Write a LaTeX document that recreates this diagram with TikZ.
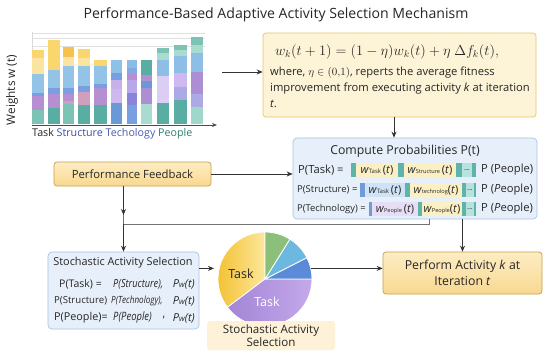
\documentclass[tikz,border=0pt]{standalone}
\usepackage{fontspec}
\setmainfont{Open Sans}
\usetikzlibrary{arrows.meta,calc}
\definecolor{cTeal}{HTML}{7CC3B6}
\definecolor{cTealD}{HTML}{5AADA3}
\definecolor{cPurp}{HTML}{B68FD3}
\definecolor{cBlue}{HTML}{7A9FE0}
\definecolor{cLBlue}{HTML}{93C4E8}
\definecolor{cYel}{HTML}{FAD66E}
\definecolor{cYelL}{HTML}{FBE3A0}
\definecolor{cOrg}{HTML}{F6C24E}
\definecolor{cLav}{HTML}{CDB8F0}
\definecolor{cLTeal}{HTML}{A9DCCF}
\definecolor{cBlueD}{HTML}{6A9AD6}
\definecolor{cIndigo}{HTML}{8A84D8}
\definecolor{cPink}{HTML}{CFA0BD}
\definecolor{txtS}{HTML}{3D4FA8}
\definecolor{txtT}{HTML}{4A5CB0}
\definecolor{txtP}{HTML}{2E8070}
\definecolor{ybord}{HTML}{C99E4C}
\definecolor{yfillT}{HTML}{FDEDC4}
\definecolor{yfillB}{HTML}{F8D890}
\definecolor{bbord}{HTML}{A7C3E3}
\definecolor{bfill}{HTML}{E7F0FA}
\definecolor{fbfill}{HTML}{FDF3D6}
\definecolor{fbbord}{HTML}{EBC46C}
\definecolor{cellY}{HTML}{FBEFC4}
\definecolor{cellB}{HTML}{CFE3F5}
\definecolor{cellL}{HTML}{E6DEF5}
\definecolor{cellT}{HTML}{B8E3DC}
\definecolor{strT}{HTML}{5FB3AD}
\definecolor{strB}{HTML}{6F9BD8}
\definecolor{pieY1}{HTML}{F3C236}
\definecolor{pieY2}{HTML}{FDE79A}
\definecolor{pieP1}{HTML}{A385D6}
\definecolor{pieP2}{HTML}{C4A9EA}
\definecolor{pieB}{HTML}{5B8AD8}
\definecolor{pieLB}{HTML}{6CB8E0}
\definecolor{pieG}{HTML}{8CC07A}
\definecolor{lblfill}{HTML}{FDF1D8}
\newfontfamily\narrowit[FakeStretch=0.82]{Open Sans Italic}
\begin{document}
\begin{tikzpicture}[x=1pt,y=-1pt,
  every node/.style={inner sep=0pt, text=black!85},
  arr/.style={-{Stealth[length=6pt,width=5pt]}, draw=black!80, line width=0.8pt},
  conn/.style={draw=black!55, line width=0.9pt},
  ybox/.style={draw=ybord, rounded corners=3pt, top color=yfillT, bottom color=yfillB, line width=0.7pt},
  bbox/.style={draw=bbord, fill=bfill, rounded corners=4pt, line width=0.7pt},
  fs/.style={font=\fontsize{#1}{#1}\selectfont},
  nit/.style={font=\fontsize{#1}{#1}\selectfont\narrowit}
]
\useasboundingbox (0,0) rectangle (550,360);
\fill[white] (0,0) rectangle (550,360);

% title
\node[fs=14.1] (title) at (276,15) {Performance-Based Adaptive Activity Selection Mechanism};

% chart grid
\draw[black!12, line width=0.6pt] (32,33) -- (205,33) (32,38) -- (205,38) (32,46) -- (205,46);
\draw[black!15, line width=0.6pt] (32,32) -- (32,125);
% bars
\fill[cTeal] (32,124) rectangle (44,110); \fill[cPurp] (32,110) rectangle (44,96); \fill[cBlue] (32,96) rectangle (44,93); \fill[cLBlue] (32,93) rectangle (44,74); \fill[cYelL] (32,74) rectangle (44,58); \fill[cYel] (32,58) rectangle (44,50);
\fill[cTealD] (48,124) rectangle (60,108); \fill[cPurp] (48,108) rectangle (60,94); \fill[cBlue] (48,94) rectangle (60,88); \fill[cLBlue] (48,88) rectangle (60,70); \fill[cYel] (48,70) rectangle (60,40);
\fill[cTeal] (63,124) rectangle (74,104); \fill[cPink] (63,104) rectangle (74,101); \fill[cPurp] (63,101) rectangle (74,94); \fill[cBlue] (63,94) rectangle (74,88); \fill[cLBlue] (63,88) rectangle (74,66); \fill[cYelL] (63,66) rectangle (74,57); \fill[cOrg] (63,57) rectangle (74,47);
\fill[cTealD] (78,124) rectangle (90,105); \fill[cPink] (78,105) rectangle (90,92); \fill[cBlue] (78,92) rectangle (90,86); \fill[cLBlue] (78,86) rectangle (90,66); \fill[cYelL] (78,66) rectangle (90,58); \fill[cYel] (78,58) rectangle (90,49);
\fill[cTealD] (94,124) rectangle (107,105); \fill[cPurp] (94,105) rectangle (107,88); \fill[cBlue] (94,88) rectangle (107,84); \fill[cLBlue] (94,84) rectangle (107,66); \fill[cYel] (94,66) rectangle (107,60);
\fill[cBlueD] (111,124) rectangle (122,103); \fill[cLav] (111,103) rectangle (122,89); \fill[cLav!80!cPurp] (111,89) rectangle (122,80); \fill[cBlue] (111,80) rectangle (122,73); \fill[cLBlue!90!cBlueD] (111,73) rectangle (122,60);
\fill[cBlue] (127,124) rectangle (137,105); \fill[cIndigo] (127,105) rectangle (137,93); \fill[cLav!70!cIndigo] (127,93) rectangle (137,80); \fill[cPurp] (127,80) rectangle (137,74); \fill[cBlue!70!cLBlue] (127,74) rectangle (137,68); \fill[cLBlue!80!cBlueD] (127,68) rectangle (137,60);
\fill[cLTeal] (141,124) rectangle (152,104); \fill[cPurp!80!cIndigo] (141,104) rectangle (152,88); \fill[cBlueD] (141,88) rectangle (152,81); \fill[cPurp] (141,81) rectangle (152,75); \fill[cTealD] (141,75) rectangle (152,60);
\fill[cTealD] (157,124) rectangle (169,103); \fill[cLav!70] (157,103) rectangle (169,76); \fill[cLBlue!85!cBlueD] (157,76) rectangle (169,60); \fill[cLTeal] (157,60) rectangle (169,53); \fill[cTeal] (157,53) rectangle (169,48);
\fill[cTealD] (174,124) rectangle (187,100); \fill[cIndigo!70] (174,100) rectangle (187,87); \fill[cLav] (174,87) rectangle (187,73); \fill[cLBlue!85!cBlueD] (174,73) rectangle (187,56); \fill[cLTeal] (174,56) rectangle (187,50); \fill[cTeal] (174,50) rectangle (187,45);
\fill[cLTeal!80!cTeal] (191,124) rectangle (203,107); \fill[cIndigo!70] (191,107) rectangle (203,94); \fill[cPurp!80!cIndigo] (191,94) rectangle (203,72); \fill[cLBlue!85!cBlueD] (191,72) rectangle (203,53); \fill[cLTeal] (191,53) rectangle (203,45); \fill[cTeal] (191,45) rectangle (203,37);
% axis
\coordinate (ax0) at (32,125);
\coordinate (ax1) at (217,125);
\draw[-{Stealth[length=5pt,width=4pt]}, draw=black!70, line width=0.7pt] (ax0) -- (ax1);
\node[fs=10.7, anchor=west] (xlab) at (32,134) {Task {\color{txtS}Structure} {\color{txtT}Techology} {\color{txtP}People}};
\node[fs=11.8, rotate=90] (ylab) at (12,90) {Weights w (t)};

% formula box
\node[draw=fbbord, fill=fbfill, rounded corners=3pt, line width=0.7pt, minimum width=273pt, minimum height=84pt] (fb) at (399.5,75) {};
\node[fs=13.8] (form) at (387,52) {$w_k(t+1)=(1-\eta)w_k(t)+\eta\ \Delta f_k(t),$};
\node[fs=11.2, anchor=west] (fl1) at (270,73) {where, $\eta\in(0{,}1)$, reperts the average fitness};
\node[fs=11.2, anchor=west] (fl2) at (270,89) {improvement from executing activity \textit{k} at iteration};
\node[fs=11.2, anchor=west] (fl3) at (270,104) {\textit{t}.};

% compute box
\node[bbox, minimum width=244pt, minimum height=81pt] (cp) at (415,178.5) {};
\node[fs=12.3] (cpt) at (405,151) {Compute Probabilities P(t)};
\node[fs=11.2, anchor=west] (r1) at (298,170) {P(Task) =};
\node[fs=9.5, anchor=west] (r2) at (297,190) {P(Structure) =};
\node[fs=9.4, anchor=west] (r3) at (297,209) {P(Technology) =};
% row 1 cells
\fill[strT] (351,163) rectangle (476,177);
\fill[cellY] (356,163) rectangle (398,177);
\fill[cellY] (404,163) rectangle (456,177);
\fill[cellT] (462,163) rectangle (472,177);
\node[fs=11] (c11) at (377,170) {\textit{w}{\fontsize{6}{6}\selectfont Task}\,(\textit{t})};
\node[fs=11] (c12) at (430,170) {\textit{w}{\fontsize{5.6}{6}\selectfont Structure}\,(\textit{t})};
\node[fs=7.5] (c13) at (467,170) {...};
% row 2 cells
\fill[strT] (360,183) rectangle (476,197);
\fill[strB] (360,183) rectangle (365,197);
\fill[cellB] (365,183) rectangle (405,197);
\fill[cellY] (410,183) rectangle (462,197);
\fill[cellT] (466,183) rectangle (474,197);
\node[fs=11] (c21) at (385,190) {\textit{w}{\fontsize{6}{6}\selectfont Task}\,(\textit{t})};
\node[fs=11] (c22) at (436,190) {\textit{w}{\fontsize{5.6}{6}\selectfont technolog}(\textit{t})};
\node[fs=7.5] (c23) at (470,190) {...};
% row 3 cells
\fill[strT] (369,202) rectangle (476,216);
\fill[strB] (369,202) rectangle (372,216);
\fill[cellL] (372,202) rectangle (418,216);
\fill[cellY] (422,202) rectangle (462,216);
\fill[cellT] (466,202) rectangle (474,216);
\node[fs=11] (c31) at (395,209) {\textit{w}{\fontsize{5.6}{6}\selectfont People}\,(\textit{t})};
\node[fs=11] (c32) at (442,209) {\textit{w}{\fontsize{5.6}{6}\selectfont People}(\textit{t})};
\node[fs=7.5] (c33) at (470,209) {...};
\node[fs=11.2, anchor=west] (p1) at (481,170) {P (People)};
\node[fs=11.2, anchor=west] (p2) at (481,190) {P (\textit{P}eople)};
\node[fs=11.2, anchor=west] (p3) at (481,209) {P (\textit{P}eople)};

% performance feedback
\node[ybox, minimum width=157pt, minimum height=24pt, fs=11.3] (pf) at (132.5,174) {Performance Feedback};

% stochastic activity selection box
\node[bbox, minimum width=151pt, minimum height=77pt] (sas) at (123.5,290.5) {};
\node[fs=10.9] (sast) at (123,263) {Stochastic Activity Selection};
\node[fs=10.5, anchor=west] (s1a) at (59,284) {P(Task) =};
\node[nit=11.2, anchor=west] (s1b) at (113,284) {P(Structure),};
\node[fs=9.6, anchor=west] (s2a) at (54,301) {P(Structure)};
\node[nit=9.9, anchor=west] (s2b) at (111,301) {P(Technology),};
\node[fs=10.8, anchor=west] (s3a) at (54,318) {P(People)=};
\node[nit=11.5, anchor=west] (s3b) at (113,318) {P(People)};
\node[fs=11] (s3c) at (164,318) {,};
\node[fs=11, anchor=east] (s1c) at (195,284) {\textit{P{\fontsize{8}{8}\selectfont w}(t)}};
\node[fs=11, anchor=east] (s2c) at (195,301) {\textit{P{\fontsize{8}{8}\selectfont w}(t)}};
\node[fs=11, anchor=east] (s3d) at (195,318) {\textit{P{\fontsize{8}{8}\selectfont w}(t)}};

% pie
\node[circle, minimum size=94pt] (pie) at (265,279) {};
\shade[left color=pieY1, right color=pieY2, draw=white, line width=0.8pt] (pie.center) -- ++(90:47pt) arc[start angle=90, end angle=217, radius=47pt] -- cycle;
\shade[left color=pieP1, right color=pieP2, draw=white, line width=0.8pt] (pie.center) -- ++(217:47pt) arc[start angle=217, end angle=360, radius=47pt] -- cycle;
\fill[pieB, draw=white, line width=0.8pt] (pie.center) -- ++(0:47pt) arc[start angle=0, end angle=27, radius=47pt] -- cycle;
\fill[pieLB, draw=white, line width=0.8pt] (pie.center) -- ++(27:47pt) arc[start angle=27, end angle=58, radius=47pt] -- cycle;
\fill[pieG, draw=white, line width=0.8pt] (pie.center) -- ++(58:47pt) arc[start angle=58, end angle=90, radius=47pt] -- cycle;
\node[fs=12.5] (tk1) at (241,274) {Task};
\node[fs=12.5, text=white] (tk2) at (267,302) {Task};
\node[fill=lblfill, rounded corners=3pt, minimum width=128pt, minimum height=29pt, align=center, fs=11.6] (plab) at (271,335.5) {Stochastic Activity\\[2pt]Selection};

% perform activity
\node[ybox, minimum width=159pt, minimum height=42pt, align=center, fs=12.3] (pa) at (462.5,273) {Perform Activity \textit{k} at\\[3.5pt]Iteration \textit{t}};

% connectors
\coordinate (chartend) at (222,72);
\draw[arr] (chartend) -- (chartend -| fb.west);
\coordinate (fbx) at (394,0);
\draw[arr] (fb.south -| fbx) -- (cp.north -| fbx);
\draw[arr] (pf.east) -- (pf.east -| cp.west);
\coordinate (jn) at (123.5,224);
\coordinate (jtip) at (123.5,215);
\coordinate (cpx) at (429,224);
\draw[conn] (pf.south -| sas.north) -- (jn);
\draw[arr] (pf.south -| sas.north) -- (jtip);
\draw[conn] (cp.south -| cpx) -- (cpx) -- (jn);
\draw[arr] (jn) -- (sas.north);
\draw[arr] (cp.south -| pa.north) -- (pa.north);
\draw[arr, shorten >=5pt] (sas.east |- pie.167) -- (pie.167);
\draw[arr] (pie.13) -- (pie.13 -| pa.west);
\end{tikzpicture}
\end{document}
